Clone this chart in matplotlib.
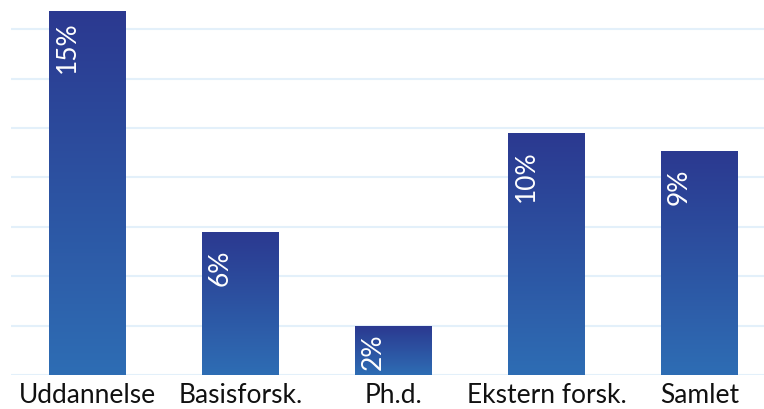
import numpy as np
import matplotlib.pyplot as plt
from matplotlib.colors import LinearSegmentedColormap

plt.rcParams['font.family'] = ['Lato', 'DejaVu Sans']

categories = ['Uddannelse', 'Basisforsk.', 'Ph.d.', 'Ekstern forsk.', 'Samlet']
values = [14.7, 5.75, 1.98, 9.76, 9.03]
labels = ['15%', '6%', '2%', '10%', '9%']

TOP_COLOR = '#2B3990'
BOTTOM_COLOR = '#2E6DB4'
GRID_COLOR = '#E3F0FA'

fig = plt.figure(figsize=(7.64, 4.10), dpi=100)
ax = fig.add_axes([11 / 764, 34 / 410, 753 / 764, 376 / 410])

x = np.arange(len(categories))
bars = ax.bar(x, values, width=0.5, color='none', zorder=2)

# vertical gradient inside each bar, dark at the top
cmap = LinearSegmentedColormap.from_list('bar', [BOTTOM_COLOR, TOP_COLOR])
grad = np.linspace(0, 1, 256).reshape(-1, 1)
for bar in bars:
    x0, w, h = bar.get_x(), bar.get_width(), bar.get_height()
    ax.imshow(grad, cmap=cmap, origin='lower', aspect='auto',
              extent=(x0, x0 + w, 0, h), zorder=2)

for xi, v, lab in zip(x, values, labels):
    if v < 4:
        ax.text(xi - 0.13, v / 2, lab, rotation=90, color='white',
                ha='center', va='center', fontsize=19, zorder=3)
    else:
        pad = -6 if v > 12 else -11
        ax.annotate(lab, (xi - 0.13, v), xytext=(0, pad), textcoords='offset points',
                    rotation=90, color='white', ha='center', va='top',
                    fontsize=19, zorder=3)

ax.set_xlim(-0.5, -0.5 + 753 / 153)
ax.set_ylim(0, 376 / 49.4 * 2)
ax.set_yticks(np.arange(0, 16, 2))
ax.yaxis.grid(True, color=GRID_COLOR, linewidth=1.5, zorder=0)
ax.set_axisbelow(True)
ax.set_yticklabels([])
ax.tick_params(axis='y', length=0)
ax.tick_params(axis='x', length=0, pad=5, labelsize=19, labelcolor='#111111')
ax.set_xticks(x)
ax.set_xticklabels(categories)
for s in ax.spines.values():
    s.set_visible(False)

fig.savefig('out.png', dpi=100)
